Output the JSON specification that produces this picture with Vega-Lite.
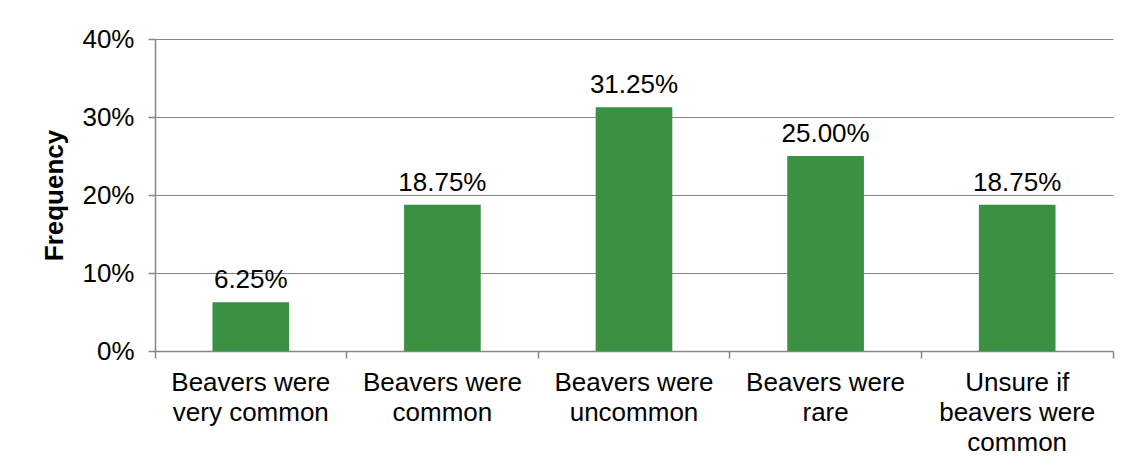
{
  "$schema": "https://vega.github.io/schema/vega-lite/v6.json",
  "width": 958,
  "height": 312,
  "autosize": "none",
  "padding": {"left": 155, "top": 39, "right": 20, "bottom": 120},
  "background": "white",
  "data": {
    "values": [
      {"category": "Beavers were very common", "frequency": 0.0625},
      {"category": "Beavers were common", "frequency": 0.1875},
      {"category": "Beavers were uncommon", "frequency": 0.3125},
      {"category": "Beavers were rare", "frequency": 0.25},
      {"category": "Unsure if beavers were common", "frequency": 0.1875}
    ]
  },
  "config": {
    "font": "Liberation Sans",
    "view": {"stroke": null},
    "axis": {
      "labelFont": "Liberation Sans",
      "titleFont": "Liberation Sans",
      "labelColor": "#000000",
      "titleColor": "#000000",
      "domainColor": "#868686",
      "tickColor": "#868686",
      "gridColor": "#868686",
      "domainWidth": 1.5,
      "tickWidth": 1.5,
      "gridWidth": 1.2
    }
  },
  "encoding": {
    "x": {
      "field": "category",
      "type": "nominal",
      "sort": null,
      "scale": {"paddingInner": 0, "paddingOuter": 0},
      "axis": {
        "title": null,
        "labelAngle": 0,
        "labelFontSize": 26,
        "labelLineHeight": 30,
        "labelPadding": 11,
        "tickSize": 7,
        "bandPosition": 1,
        "tickExtra": true,
        "grid": false,
        "labelExpr": "!isValid(datum.value) ? '' : datum.value == 'Unsure if beavers were common' ? ['Unsure if', 'beavers were', 'common'] : ['Beavers were', replace(datum.value, 'Beavers were ', '')]"
      }
    },
    "y": {
      "field": "frequency",
      "type": "quantitative",
      "scale": {"domain": [0, 0.4], "nice": false},
      "axis": {
        "title": "Frequency",
        "titleFontSize": 26,
        "titleFontWeight": "bold",
        "titlePadding": 14,
        "format": ".0%",
        "values": [0, 0.1, 0.2, 0.3, 0.4],
        "labelFontSize": 26,
        "labelPadding": 14,
        "tickSize": 7,
        "grid": true
      }
    }
  },
  "layer": [
    {
      "mark": {"type": "bar", "color": "#3a9142", "width": {"band": 0.4}}
    },
    {
      "mark": {"type": "text", "fontSize": 26, "baseline": "alphabetic", "dy": -14, "color": "#000000"},
      "encoding": {
        "text": {"field": "frequency", "type": "quantitative", "format": ".2%"}
      }
    }
  ]
}
